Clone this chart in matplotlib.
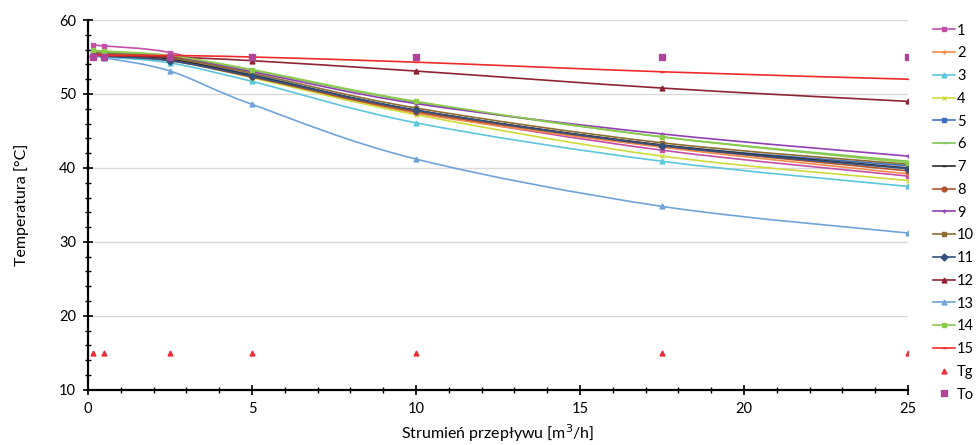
import matplotlib
matplotlib.use("Agg")
import matplotlib.pyplot as plt
from matplotlib.path import Path
from matplotlib.patches import PathPatch
from matplotlib.lines import Line2D
from matplotlib.ticker import MultipleLocator
import numpy as np

plt.rcParams['font.family'] = ['Lato', 'DejaVu Sans']

flow = [0.15, 0.5, 2.5, 5, 10, 17.5, 25]

s1 = [56.6, 56.5, 55.6, 52.5, 47.6, 42.4, 38.9]
s2 = [55.5, 55.4, 54.8, 52.4, 47.4, 42.8, 39.2]
s3 = [55.2, 55.0, 54.2, 51.7, 46.1, 40.9, 37.5]
s4 = [55.4, 55.3, 54.7, 52.2, 47.2, 41.6, 38.3]
s5 = [55.3, 55.2, 54.6, 52.6, 47.8, 43.1, 40.3]
s6 = [55.8, 55.7, 55.1, 53.2, 48.9, 44.2, 40.9]
s7 = [55.4, 55.3, 54.7, 52.5, 47.8, 43.1, 40.0]
s8 = [55.3, 55.2, 54.5, 52.3, 47.6, 43.0, 39.6]
s9 = [55.5, 55.4, 55.0, 53.0, 48.7, 44.6, 41.6]
s10 = [55.6, 55.5, 54.9, 52.8, 48.1, 43.4, 40.5]
s11 = [55.2, 55.1, 54.5, 52.4, 47.8, 43.0, 39.9]
s12 = [55.3, 55.2, 55.0, 54.5, 53.1, 50.8, 49.0]
s13 = [55.1, 54.9, 53.1, 48.6, 41.2, 34.8, 31.2]
s14 = [55.9, 55.8, 55.2, 53.3, 49.0, 44.2, 40.7]
s15 = [55.2, 55.2, 55.2, 55.0, 54.3, 53.0, 52.0]
tg = [15, 15, 15, 15, 15, 15, 15]
to = [55.0, 55.0, 55.0, 55.0, 55.0, 55.0, 55.0]

labels = ['1', '2', '3', '4', '5', '6', '7', '8', '9', '10', '11', '12', '13', '14', '15']
series = [s1, s2, s3, s4, s5, s6, s7, s8, s9, s10, s11, s12, s13, s14, s15]
colors = ['#C54FA6', '#F28A4A', '#5BC6DC', '#CFDB3A', '#3F6DC0', '#7DC456',
          '#2B2B2B', '#B0552F', '#9140B2', '#8C6D31', '#34507F', '#8E2434',
          '#70A3DA', '#8BCB4E', '#EE2A2A']
markers = ['s', '+', '^', 'x', 's', '_', '_', 'o', '+', 's', 'D', '^', '^', 's', '_']


def smooth_path(x, y):
    pts = np.column_stack([x, y]).astype(float)
    n = len(pts)
    verts = [pts[0]]
    codes = [Path.MOVETO]
    for i in range(n - 1):
        p0 = pts[i - 1] if i > 0 else pts[i]
        p1 = pts[i]
        p2 = pts[i + 1]
        p3 = pts[i + 2] if i + 2 < n else pts[i + 1]
        c1 = p1 + (p2 - p0) / 6.0
        c2 = p2 - (p3 - p1) / 6.0
        verts += [c1, c2, p2]
        codes += [Path.CURVE4] * 3
    return Path(verts, codes)


fig = plt.figure(figsize=(9.79, 4.45), dpi=100)
ax = fig.add_axes([0.0899, 0.124, 0.8376, 0.831])

handles = []
for lab, ys, c, m in zip(labels, series, colors, markers):
    ax.add_patch(PathPatch(smooth_path(flow, ys), fill=False, edgecolor=c, lw=1.2, zorder=3))
    ax.plot(flow, ys, ls='none', marker=m, color=c, ms=3.5, mew=1.0, zorder=4)
    handles.append(Line2D([], [], color=c, lw=1.2, marker=m, ms=3.5, mew=1.0))

ax.plot(flow, tg, ls='none', marker='^', color='#E8303A', ms=3.5, zorder=4)
handles.append(Line2D([], [], ls='none', marker='^', color='#E8303A', ms=3.5))
ax.plot(flow, to, ls='none', marker='s', color='#B0449A', ms=4, zorder=4)
handles.append(Line2D([], [], ls='none', marker='s', color='#B0449A', ms=4))
leg_labels = labels + ['Tg', 'To']

ax.set_xlim(0, 25)
ax.set_ylim(10, 60)
ax.xaxis.set_major_locator(MultipleLocator(5))
ax.xaxis.set_minor_locator(MultipleLocator(1))
ax.yaxis.set_major_locator(MultipleLocator(10))
ax.yaxis.set_minor_locator(MultipleLocator(2))
ax.tick_params(which='major', direction='inout', length=7, width=1.2, labelsize=10.5, pad=5)
ax.tick_params(which='minor', direction='inout', length=5, width=1.0)
ax.grid(axis='y', which='major', color='#D9D9D9', lw=1.0, zorder=0)
ax.set_axisbelow(True)
for sp in ['top', 'right']:
    ax.spines[sp].set_visible(False)
for sp in ['left', 'bottom']:
    ax.spines[sp].set_linewidth(1.6)

ax.set_xlabel('Strumień przepływu [m$^3$/h]', fontsize=11.5, labelpad=5)
ax.set_ylabel('Temperatura [°C]', fontsize=11.5, labelpad=22)

fig.legend(handles, leg_labels, loc='upper left', bbox_to_anchor=(0.953, 0.947),
           frameon=False, fontsize=10.5, handlelength=1.5, handletextpad=0.15,
           labelspacing=0.6, borderaxespad=0, borderpad=0)

fig.savefig('out.png', dpi=100)
